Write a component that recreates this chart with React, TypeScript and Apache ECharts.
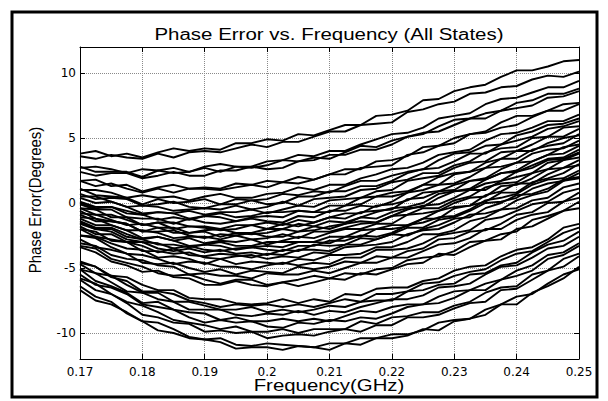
import React, { useEffect, useRef } from "react";
import * as echarts from "echarts";

const freqs = [0.17, 0.1725, 0.175, 0.1775, 0.18, 0.1825, 0.185, 0.1875, 0.19, 0.1925, 0.195, 0.1975, 0.2, 0.2025, 0.205, 0.2075, 0.21, 0.2125, 0.215, 0.2175, 0.22, 0.2225, 0.225, 0.2275, 0.23, 0.2325, 0.235, 0.2375, 0.24, 0.2425, 0.245, 0.2475, 0.25];
const xTicks = [0.17, 0.18, 0.19, 0.2, 0.21, 0.22, 0.23, 0.24, 0.25];
const yTicks = [-10, -5, 0, 5, 10];

const s01 = [3.8,4.0,3.6,3.8,3.5,3.9,4.2,4.0,4.2,4.1,4.6,4.6,4.9,4.8,5.3,5.2,5.6,6.0,6.0,6.7,6.8,7.1,7.9,8.0,8.6,8.9,9.1,9.7,10.2,10.2,10.5,10.9,11.0];
const s02 = [3.6,3.4,3.7,3.5,3.4,3.8,3.5,3.9,4.0,3.9,4.2,4.5,4.3,4.7,4.7,5.1,5.5,5.5,6.0,6.1,6.2,7.0,7.2,7.6,7.8,8.4,8.5,8.9,9.0,9.5,9.8,9.7,10.1];
const s03 = [2.7,2.8,2.6,2.3,2.6,2.5,2.7,2.4,2.8,3.0,2.8,2.8,3.2,3.3,3.7,3.6,4.0,4.0,4.5,4.9,5.3,5.4,5.8,6.5,6.7,6.9,7.6,8.0,8.1,8.5,8.9,8.9,9.4];
const s04 = [2.8,2.4,2.4,2.4,2.0,2.5,2.3,2.4,2.7,2.4,2.8,2.7,2.9,3.3,3.2,3.5,3.4,3.9,4.4,4.3,4.8,5.1,5.3,5.9,6.4,6.5,6.9,7.1,7.7,7.9,8.4,8.4,8.8];
const s05 = [2.4,2.1,2.3,2.3,1.9,2.1,2.4,2.1,2.1,2.5,2.5,2.8,2.6,2.7,3.2,3.3,3.7,3.7,4.1,4.1,4.5,5.1,5.4,5.5,6.0,6.5,6.5,7.1,7.3,7.5,8.1,8.2,8.6];
const s06 = [1.7,1.8,1.3,1.4,0.9,1.2,1.4,1.1,1.2,1.1,1.5,1.4,1.7,1.6,2.0,1.8,2.2,2.6,2.6,3.2,3.3,3.6,4.3,4.4,5.0,5.3,5.5,6.2,6.7,6.7,7.1,7.6,7.7];
const s07 = [1.7,1.3,1.5,1.1,0.8,1.1,0.8,1.1,1.1,1.0,1.2,1.4,1.2,1.6,1.5,1.8,2.2,2.2,2.7,2.8,2.9,3.7,3.9,4.4,4.6,5.3,5.4,5.8,6.0,6.6,7.1,7.1,7.6];
const s08 = [1.0,1.0,0.8,0.4,0.6,0.4,0.5,0.2,0.5,0.7,0.4,0.4,0.7,0.8,1.2,1.0,1.4,1.4,1.9,2.2,2.6,2.7,3.1,3.7,3.9,4.1,4.8,5.3,5.4,5.8,6.3,6.3,6.8];
const s09 = [1.1,0.6,0.5,0.4,-0.1,0.3,0.0,0.1,0.3,-0.1,0.3,0.2,0.3,0.7,0.6,0.9,0.8,1.3,1.7,1.7,2.1,2.4,2.6,3.3,3.8,3.9,4.4,4.5,5.2,5.5,6.0,6.1,6.5];
const s10 = [0.7,0.3,0.4,0.3,-0.2,-0.1,0.1,-0.3,-0.4,-0.1,-0.1,0.2,-0.1,0.0,0.5,0.5,0.9,0.9,1.3,1.3,1.7,2.3,2.6,2.7,3.2,3.8,3.8,4.5,4.8,5.1,5.7,5.9,6.3];
const s11 = [0.5,0.5,0.1,-0.3,-0.2,-0.3,-0.6,-0.5,-0.4,-0.5,-0.2,-0.5,-0.3,0.1,-0.2,0.3,0.4,0.5,1.0,1.1,1.6,1.8,2.3,2.3,2.9,3.2,3.9,4.2,4.3,5.0,5.1,5.8,5.9];
const s12 = [0.4,0.0,0.1,-0.3,-0.8,-0.7,-0.8,-0.6,-0.9,-0.7,-0.7,-0.5,-0.8,-0.5,-0.2,-0.3,0.2,0.3,0.4,0.9,1.0,1.7,1.9,2.1,2.7,3.1,3.2,3.9,4.0,4.5,5.1,5.1,5.7];
const s13 = [0.1,-0.3,-0.3,-0.6,-0.9,-0.7,-0.8,-1.2,-1.0,-0.8,-1.1,-1.0,-0.7,-0.7,-0.6,-0.7,-0.2,-0.2,0.4,0.5,0.8,0.9,1.4,2.0,2.3,2.4,3.1,3.4,4.0,4.0,4.6,5.0,5.2];
const s14 = [0.0,-0.4,-0.3,-0.8,-0.9,-1.3,-1.1,-1.3,-1.0,-1.1,-1.4,-1.1,-1.0,-1.1,-0.6,-0.7,-0.7,-0.2,-0.1,0.5,0.5,0.8,1.4,1.4,2.2,2.4,2.7,3.4,3.4,4.1,4.4,4.6,5.3];
const s15 = [-0.1,-0.5,-0.5,-1.1,-1.2,-1.2,-1.6,-1.2,-1.5,-1.6,-1.4,-1.2,-1.4,-1.5,-1.0,-1.1,-0.6,-0.6,-0.2,-0.3,0.1,0.8,1.0,1.4,1.5,2.0,2.7,2.8,3.1,3.8,4.1,4.2,4.8];
const s16 = [-0.4,-0.5,-1.1,-1.1,-1.7,-1.5,-1.5,-1.8,-1.8,-2.0,-1.7,-1.7,-1.5,-1.7,-1.3,-1.5,-1.1,-0.8,-0.8,-0.2,-0.1,0.2,0.8,0.9,1.4,1.7,1.9,2.6,3.1,3.2,3.7,4.3,4.5];
const s17 = [-0.4,-0.9,-0.9,-1.3,-1.7,-1.5,-2.0,-1.8,-1.9,-2.1,-2.0,-1.7,-2.0,-1.6,-1.8,-1.5,-1.1,-1.2,-0.7,-0.6,-0.5,0.3,0.4,0.9,1.0,1.7,1.8,2.3,2.5,3.2,3.7,3.8,4.4];
const s18 = [-0.8,-0.9,-1.3,-1.7,-1.6,-1.9,-1.9,-2.3,-2.1,-2.0,-2.3,-2.3,-2.0,-2.0,-1.6,-1.8,-1.4,-1.5,-1.1,-0.7,-0.4,-0.3,0.0,0.7,0.9,1.1,1.8,2.3,2.4,2.9,3.4,3.5,4.1];
const s19 = [-0.6,-1.2,-1.4,-1.6,-2.2,-1.9,-2.3,-2.3,-2.2,-2.6,-2.3,-2.4,-2.3,-2.0,-2.2,-1.8,-2.0,-1.6,-1.1,-1.2,-0.7,-0.4,-0.3,0.4,0.9,1.0,1.5,1.7,2.4,2.7,3.3,3.4,3.9];
const s20 = [-0.9,-1.4,-1.4,-1.6,-2.2,-2.2,-2.1,-2.5,-2.7,-2.4,-2.5,-2.3,-2.6,-2.6,-2.2,-2.1,-1.8,-1.6,-1.4,-1.5,-1.0,-0.5,-0.2,-0.1,0.4,1.0,1.0,1.7,2.0,2.3,3.1,3.3,3.8];
const s21 = [-1.1,-1.2,-1.7,-2.1,-2.1,-2.3,-2.7,-2.6,-2.6,-2.8,-2.5,-2.8,-2.7,-2.4,-2.7,-2.2,-2.2,-1.9,-1.6,-1.5,-1.0,-0.9,-0.4,-0.4,0.2,0.5,1.2,1.5,1.6,2.3,2.6,3.3,3.5];
const s22 = [-1.2,-1.7,-1.7,-2.1,-2.7,-2.6,-2.9,-2.7,-3.1,-2.9,-3.0,-2.8,-3.2,-2.9,-2.6,-2.7,-2.3,-2.0,-2.0,-1.6,-1.6,-0.9,-0.8,-0.6,0.0,0.4,0.5,1.3,1.4,1.9,2.6,2.7,3.3];
const s23 = [-1.4,-1.9,-1.9,-2.4,-2.8,-2.6,-2.9,-3.3,-3.2,-3.0,-3.3,-3.3,-3.0,-3.0,-3.0,-3.0,-2.6,-2.6,-2.1,-2.0,-1.7,-1.7,-1.2,-0.6,-0.3,-0.2,0.6,0.9,1.5,1.5,2.2,2.7,2.9];
const s24 = [-1.5,-2.0,-2.0,-2.6,-2.8,-3.2,-3.2,-3.4,-3.2,-3.3,-3.6,-3.4,-3.3,-3.4,-3.0,-3.0,-3.1,-2.6,-2.6,-2.0,-2.0,-1.8,-1.2,-1.2,-0.4,-0.2,0.1,0.8,0.8,1.6,1.9,2.3,3.0];
const s25 = [-1.6,-2.0,-2.2,-2.8,-3.0,-3.1,-3.5,-3.3,-3.6,-3.7,-3.5,-3.4,-3.6,-3.7,-3.3,-3.3,-2.9,-2.9,-2.5,-2.6,-2.3,-1.7,-1.5,-1.1,-1.0,-0.5,0.2,0.4,0.7,1.4,1.8,1.9,2.5];
const s26 = [-1.8,-2.4,-2.4,-3.0,-3.0,-3.5,-3.7,-3.5,-3.8,-3.6,-3.9,-3.8,-4.0,-3.6,-3.7,-3.2,-3.3,-3.2,-2.7,-2.8,-2.4,-1.9,-1.9,-1.3,-1.1,-0.6,0.0,0.1,0.4,1.1,1.5,1.7,2.3];
const s27 = [-2.0,-2.2,-2.9,-3.0,-3.3,-3.8,-3.5,-4.0,-4.1,-3.9,-4.0,-4.2,-3.9,-4.0,-3.6,-3.6,-3.7,-3.2,-3.2,-2.8,-2.4,-2.5,-2.0,-1.7,-1.2,-1.1,-0.4,0.0,0.6,0.7,1.1,1.8,2.0];
const s28 = [-2.0,-2.6,-2.8,-3.0,-3.7,-3.7,-3.9,-3.8,-4.2,-4.3,-4.1,-4.0,-4.3,-4.1,-4.2,-3.8,-3.9,-3.4,-3.3,-3.2,-3.0,-2.4,-2.1,-2.0,-1.5,-0.9,-0.8,-0.5,0.2,0.6,0.9,1.7,1.9];
const s29 = [-2.5,-2.6,-3.1,-3.5,-3.6,-4.2,-4.1,-4.3,-4.7,-4.3,-4.7,-4.5,-4.6,-4.7,-4.3,-4.4,-4.0,-4.0,-3.9,-3.4,-3.4,-3.0,-2.4,-2.4,-2.1,-1.4,-1.1,-0.5,-0.4,0.2,0.4,1.2,1.5];
const s30 = [-2.5,-2.7,-3.4,-3.9,-4.0,-4.3,-4.7,-4.5,-4.6,-4.9,-4.9,-5.1,-4.8,-4.6,-4.8,-4.6,-4.7,-4.2,-4.2,-3.6,-3.6,-3.5,-3.1,-2.5,-2.3,-2.1,-1.3,-1.1,-0.6,-0.1,0.1,0.8,1.1];
const s31 = [-2.8,-3.4,-3.6,-3.9,-4.6,-4.7,-4.6,-5.0,-5.3,-5.1,-5.5,-5.2,-5.3,-5.4,-4.9,-5.1,-4.9,-4.5,-4.6,-4.1,-4.2,-3.7,-3.5,-2.8,-2.7,-2.2,-2.1,-1.6,-0.9,-0.7,0.0,0.1,0.8];
const s32 = [-3.1,-3.3,-4.0,-4.3,-4.4,-4.8,-4.9,-5.5,-5.4,-5.6,-5.6,-5.8,-5.4,-5.5,-5.5,-5.2,-5.4,-5.0,-4.6,-4.6,-4.2,-4.2,-3.7,-3.2,-3.1,-2.7,-2.0,-2.0,-1.3,-0.9,-0.7,0.1,0.4];
const s33 = [-3.3,-3.5,-4.3,-4.6,-4.9,-5.4,-5.6,-5.5,-5.9,-6.2,-5.9,-5.9,-6.3,-6.1,-5.9,-5.6,-5.8,-5.4,-5.5,-5.1,-5.0,-4.4,-4.2,-4.1,-3.7,-3.0,-2.9,-2.4,-2.2,-1.3,-1.0,-0.6,0.1];
const s34 = [-3.4,-3.8,-4.5,-4.8,-5.3,-5.2,-5.7,-5.8,-6.3,-6.3,-6.0,-6.3,-6.4,-6.1,-6.4,-6.1,-5.8,-5.9,-5.4,-5.5,-5.1,-4.7,-4.6,-3.9,-4.0,-3.4,-2.9,-2.8,-2.0,-1.8,-1.2,-0.6,-0.4];
const s35 = [-4.5,-4.9,-5.6,-5.7,-6.3,-6.7,-6.7,-7.3,-7.4,-7.4,-7.7,-7.8,-7.7,-7.4,-7.7,-7.4,-7.6,-7.0,-7.1,-6.6,-6.5,-6.5,-6.0,-5.8,-5.2,-4.9,-4.8,-4.1,-3.6,-3.4,-2.8,-1.9,-1.6];
const s36 = [-4.6,-4.9,-5.7,-6.0,-6.8,-6.8,-7.0,-7.5,-7.7,-8.0,-7.8,-7.9,-7.8,-8.0,-7.8,-8.0,-7.7,-7.4,-7.6,-7.0,-7.0,-6.8,-6.2,-6.1,-5.6,-5.3,-5.1,-4.4,-3.9,-3.7,-3.0,-2.3,-1.9];
const s37 = [-4.7,-5.4,-5.6,-6.3,-6.9,-6.9,-7.6,-7.6,-7.9,-8.2,-8.2,-8.0,-8.4,-8.2,-8.4,-8.2,-7.9,-8.0,-7.6,-7.5,-7.5,-6.8,-6.7,-6.3,-6.2,-5.5,-5.4,-4.8,-4.6,-3.8,-3.2,-2.9,-2.2];
const s38 = [-5.1,-5.4,-6.1,-6.8,-6.9,-7.4,-7.6,-8.2,-8.2,-8.2,-8.6,-8.7,-8.5,-8.6,-8.3,-8.6,-8.3,-8.4,-8.0,-7.7,-7.4,-7.4,-7.1,-6.5,-6.4,-6.2,-5.5,-4.9,-4.8,-4.2,-3.5,-3.3,-2.6];
const s39 = [-5.1,-6.0,-6.4,-6.9,-7.7,-7.6,-8.2,-8.4,-8.5,-9.0,-8.8,-9.1,-9.1,-8.9,-9.1,-8.9,-9.1,-8.7,-8.3,-8.4,-8.0,-7.8,-7.8,-7.2,-6.8,-6.7,-6.2,-5.9,-5.2,-4.8,-4.0,-3.8,-3.1];
const s40 = [-5.5,-6.3,-6.5,-7.0,-7.8,-8.0,-8.2,-8.8,-9.2,-9.0,-9.2,-9.1,-9.5,-9.6,-9.2,-9.3,-9.0,-9.1,-8.8,-8.9,-8.5,-8.0,-7.8,-7.7,-7.3,-6.7,-6.7,-5.9,-5.6,-5.2,-4.3,-4.0,-3.3];
const s41 = [-5.8,-6.2,-7.0,-7.6,-7.9,-8.4,-9.0,-9.2,-9.4,-9.7,-9.5,-9.9,-9.9,-9.7,-10.0,-9.7,-9.7,-9.7,-9.1,-9.3,-8.8,-8.7,-8.4,-8.4,-7.9,-7.6,-6.9,-6.5,-6.4,-5.5,-5.2,-4.3,-3.9];
const s42 = [-5.9,-6.7,-7.0,-7.7,-8.6,-8.8,-9.2,-9.3,-9.9,-9.8,-10.0,-9.9,-10.4,-10.2,-10.1,-10.2,-9.9,-9.7,-9.9,-9.4,-9.4,-8.8,-8.8,-8.6,-8.1,-7.7,-7.6,-6.7,-6.6,-5.9,-5.2,-4.9,-4.1];
const s43 = [-6.7,-7.5,-7.8,-8.4,-9.1,-9.2,-9.7,-10.3,-10.5,-10.4,-10.9,-11.0,-10.8,-10.9,-11.0,-11.1,-10.8,-10.8,-10.4,-10.4,-10.1,-10.1,-9.8,-9.2,-9.0,-8.9,-8.2,-7.8,-7.2,-7.0,-6.2,-5.5,-5.1];
const s44 = [-6.4,-7.2,-7.6,-8.5,-9.1,-9.8,-10.0,-10.4,-10.5,-10.7,-11.2,-11.1,-11.1,-11.3,-11.0,-11.1,-11.3,-10.8,-10.9,-10.4,-10.4,-10.2,-9.7,-9.8,-9.1,-8.9,-8.6,-7.8,-7.8,-6.9,-6.4,-5.8,-4.9];

const states = [s01, s02, s03, s04, s05, s06, s07, s08, s09, s10, s11, s12, s13, s14, s15, s16, s17, s18, s19, s20, s21, s22, s23, s24, s25, s26, s27, s28, s29, s30, s31, s32, s33, s34, s35, s36, s37, s38, s39, s40, s41, s42, s43, s44];

const FONT = "'Liberation Sans', Arial, Helvetica, sans-serif";
const TICK_FONT = "'DejaVu Sans', sans-serif";

export default function App() {
  const ref = useRef<HTMLDivElement>(null);
  useEffect(() => {
    if (!ref.current) return;
    const chart = echarts.init(ref.current, null, { renderer: "svg" });
    const series = states.map((vals, i) => ({
      type: "line",
      name: "State " + (i + 1),
      data: vals.map((v, j) => [freqs[j], v]),
      symbol: "none",
      showSymbol: false,
      silent: true,
      z: 3,
      lineStyle: { color: "#000", width: 1.9 },
    }));
    const gridLine = { show: true, lineStyle: { color: "#8a8a8a", width: 1, type: [1, 1] } };
    chart.setOption({
      animation: false,
      backgroundColor: "#fff",
      grid: { left: 80, top: 47, width: 499, height: 312, outerBoundsMode: "none", containLabel: false },
      xAxis: [
        {
          type: "value", position: "bottom", min: 0.17, max: 0.25,
          axisLine: { show: true, onZero: false, lineStyle: { color: "#000", width: 1 } },
          axisTick: { show: true, inside: true, length: 5, customValues: xTicks, lineStyle: { color: "#000" } },
          axisLabel: { customValues: xTicks, margin: 7, color: "#000", fontSize: 12, fontFamily: TICK_FONT,
            formatter: (v: number) => String(Number(v.toFixed(2))) },
          splitLine: gridLine,
        },
        {
          type: "value", position: "top", min: 0.17, max: 0.25,
          axisLine: { show: true, onZero: false, lineStyle: { color: "#000", width: 1 } },
          axisTick: { show: true, inside: true, length: 5, customValues: xTicks, lineStyle: { color: "#000" } },
          axisLabel: { show: false },
          splitLine: { show: false },
        },
      ],
      yAxis: [
        {
          type: "value", position: "left", min: -12, max: 12,
          axisLine: { show: true, onZero: false, lineStyle: { color: "#000", width: 1 } },
          axisTick: { show: true, inside: true, length: 5, customValues: yTicks, lineStyle: { color: "#000" } },
          axisLabel: { customValues: yTicks, margin: 4, color: "#000", fontSize: 12, fontFamily: TICK_FONT },
          splitLine: gridLine,
        },
        {
          type: "value", position: "right", min: -12, max: 12,
          axisLine: { show: true, onZero: false, lineStyle: { color: "#000", width: 1 } },
          axisTick: { show: true, inside: true, length: 5, customValues: yTicks, lineStyle: { color: "#000" } },
          axisLabel: { show: false },
          splitLine: { show: false },
        },
      ],
      graphic: [
        { type: "rect", silent: true, shape: { x: 12, y: 12, width: 585, height: 385 },
          style: { fill: "none", stroke: "#000", lineWidth: 3 } },
        { type: "text", silent: true, x: 329, y: 34, scaleX: 1.28,
          style: { text: "Phase Error vs. Frequency (All States)", fontSize: 16, fontFamily: FONT, fill: "#000", align: "center", verticalAlign: "middle" } },
        { type: "text", silent: true, x: 329, y: 385, scaleX: 1.2,
          style: { text: "Frequency(GHz)", fontSize: 17, fontFamily: FONT, fill: "#000", align: "center", verticalAlign: "middle" } },
        { type: "text", silent: true, x: 35, y: 200, rotation: Math.PI / 2, scaleY: 1.15,
          style: { text: "Phase Error(Degrees)", fontSize: 15, fontFamily: FONT, fill: "#000", align: "center", verticalAlign: "middle" } },
      ],
      series,
    });
    return () => chart.dispose();
  }, []);
  return (
    <div style={{ position: "fixed", left: 0, top: 0, width: 608, height: 401, background: "#fff" }}>
      <div ref={ref} style={{ width: 608, height: 401 }} />
    </div>
  );
}
